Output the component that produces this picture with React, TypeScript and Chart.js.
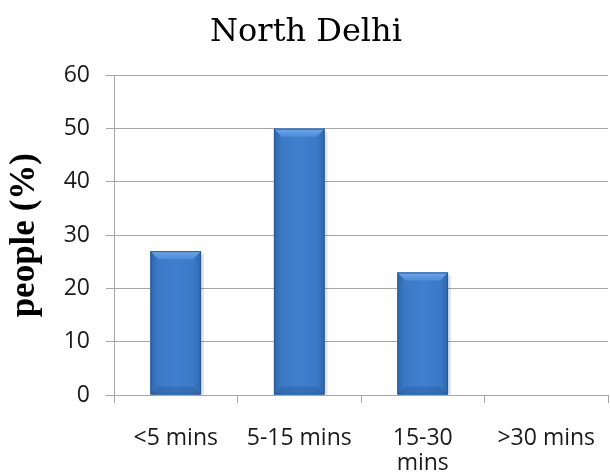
import React, { useEffect, useRef } from "react";
import { Chart, registerables } from "chart.js";

Chart.register(...registerables);

const categories: (string | string[])[] = ["<5 mins", "5-15 mins", ["15-30", "mins"], ">30 mins"];
const peoplePercent: number[] = [27, 50, 23, 0];
const yTicks: number[] = [0, 10, 20, 30, 40, 50, 60];

// Shades the bars like a bevelled column: lighter top edge, soft darker sides.
const bevelPlugin = {
  id: "bevelBars",
  afterDatasetDraw(chart: any, args: any) {
    const meta = args.meta;
    const ctx = chart.ctx as CanvasRenderingContext2D;
    meta.data.forEach((bar: any) => {
      const { x, y, base, width } = bar.getProps(["x", "y", "base", "width"], true);
      const left = x - width / 2;
      const right = x + width / 2;
      const top = Math.min(y, base);
      const bottom = Math.max(y, base);
      const h = bottom - top;
      if (h < 1) return;
      const b = Math.min(8, h / 3);
      ctx.save();
      // soft shadow on the right
      ctx.fillStyle = "rgba(0,0,0,0.10)";
      ctx.fillRect(right, top + 3, 3, h - 3);
      // body
      const g = ctx.createLinearGradient(left, 0, right, 0);
      g.addColorStop(0, "#2f66ab");
      g.addColorStop(0.15, "#3b79c6");
      g.addColorStop(0.5, "#3f7fcd");
      g.addColorStop(0.85, "#3b79c6");
      g.addColorStop(1, "#2f66ab");
      ctx.fillStyle = g;
      ctx.fillRect(left, top, width, h);
      // top bevel
      ctx.beginPath();
      ctx.moveTo(left, top);
      ctx.lineTo(right, top);
      ctx.lineTo(right - b, top + b);
      ctx.lineTo(left + b, top + b);
      ctx.closePath();
      const gt = ctx.createLinearGradient(0, top, 0, top + b);
      gt.addColorStop(0, "#6fa8ea");
      gt.addColorStop(1, "#4b8bd8");
      ctx.fillStyle = gt;
      ctx.fill();
      // bottom bevel
      ctx.beginPath();
      ctx.moveTo(left, bottom);
      ctx.lineTo(right, bottom);
      ctx.lineTo(right - b, bottom - b);
      ctx.lineTo(left + b, bottom - b);
      ctx.closePath();
      ctx.fillStyle = "rgba(35,80,140,0.3)";
      ctx.fill();
      // outline
      ctx.strokeStyle = "rgba(40,85,145,0.9)";
      ctx.lineWidth = 1;
      ctx.strokeRect(left + 0.5, top + 0.5, width - 1, h - 1);
      ctx.restore();
    });
  },
};

export default function App() {
  const canvasRef = useRef<HTMLCanvasElement | null>(null);

  useEffect(() => {
    document.body.style.margin = "0";
    const canvas = canvasRef.current;
    if (!canvas) return;
    const chart = new Chart(canvas, {
      type: "bar",
      data: {
        labels: categories,
        datasets: [
          {
            label: "people (%)",
            data: peoplePercent,
            backgroundColor: "#3f7fcc",
            categoryPercentage: 1,
            barPercentage: 0.41,
          },
        ],
      },
      options: {
        animation: false,
        responsive: false,
        maintainAspectRatio: false,
        layout: { padding: { left: 4, right: 2, top: 8, bottom: 0 } },
        plugins: {
          legend: { display: false },
          tooltip: { enabled: false },
          title: {
            display: true,
            text: "North Delhi",
            color: "#000",
            font: { family: "'DejaVu Serif', 'Liberation Serif', serif", size: 32, weight: "normal" },
            padding: { top: 5, bottom: 24 },
          },
        },
        scales: {
          x: {
            afterFit: (scale: any) => {
              scale.height = 81;
              scale.paddingLeft = 0;
              scale.paddingRight = 0;
            },
            grid: {
              display: true,
              drawOnChartArea: false,
              drawTicks: true,
              tickLength: 8,
              color: "#a6a6a6",
              offset: true,
            },
            border: { color: "#a6a6a6", width: 1 },
            ticks: {
              color: "#1a1a1a",
              font: { family: "'Open Sans', 'Liberation Sans', sans-serif", size: 23, lineHeight: 1.1 },
              maxRotation: 0,
              autoSkip: false,
              padding: 23,
            },
          },
          y: {
            min: 0,
            max: 60,
            afterFit: (scale: any) => {
              scale.width = 110;
            },
            afterBuildTicks: (axis: any) => {
              axis.ticks = yTicks.map((v) => ({ value: v }));
            },
            grid: {
              color: "#a6a6a6",
              drawTicks: true,
              tickLength: 8,
            },
            border: { color: "#a6a6a6", width: 1 },
            ticks: {
              color: "#1a1a1a",
              font: { family: "'Open Sans', 'Liberation Sans', sans-serif", size: 23 },
              padding: 16,
            },
            title: {
              display: true,
              text: "people (%)",
              color: "#000",
              font: { family: "'Liberation Serif', serif", size: 35, weight: "bold" },
              padding: { top: 0, bottom: 6 },
            },
          },
        },
      },
      plugins: [bevelPlugin],
    });
    return () => chart.destroy();
  }, []);

  return (
    <div style={{ width: 610, height: 476, background: "#fff" }}>
      <canvas ref={canvasRef} width={610} height={476} style={{ display: "block" }} />
    </div>
  );
}
